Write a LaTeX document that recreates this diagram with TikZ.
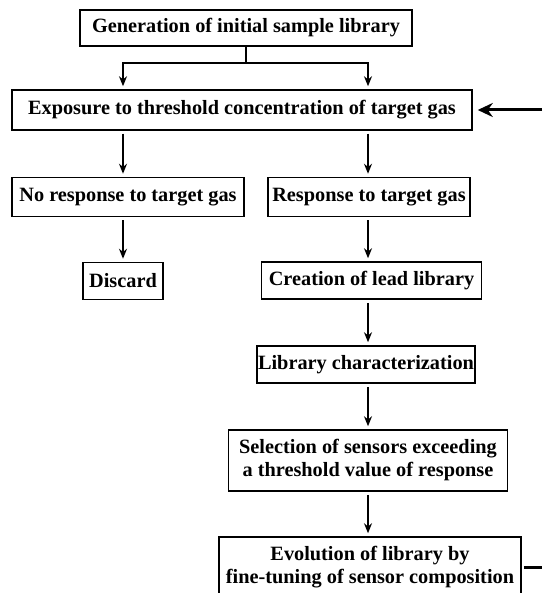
\documentclass[tikz,border=0pt]{standalone}
\usepackage{fontspec}
\setmainfont{Liberation Serif}
\usetikzlibrary{arrows.meta}

\begin{document}
\begin{tikzpicture}[x=1pt, y=-1pt,
    stage/.style={draw, line width=1.5pt, inner sep=0pt, align=center,
        font=\fontsize{20.3}{23}\selectfont\bfseries},
    flow/.style={line width=1.6pt, -{Stealth[length=10pt,width=8pt]},
        shorten >=3pt},
    feed/.style={line width=3pt, -{Stealth[length=15pt,width=14pt]},
        shorten >=5pt}]
    \useasboundingbox (0,0) rectangle (542,593);

    \path
    node[stage, minimum width=332pt, minimum height=36pt] (gen) at (246,28)
        {Generation of initial sample library}
    node[stage, minimum width=460pt, minimum height=40pt] (expo) at (242,110)
        {Exposure to threshold concentration of target gas}
    node[stage, minimum width=232pt, minimum height=39pt] (nores) at (128,197)
        {No response to target gas}
    node[stage, minimum width=202pt, minimum height=39pt] (res) at (369,197)
        {Response to target gas}
    node[stage, minimum width=80pt, minimum height=37pt] (disc) at (123,281)
        {Discard}
    node[stage, minimum width=220pt, minimum height=37pt] (lead) at (371.5,280.5)
        {Creation of lead library}
    node[stage, minimum width=218pt, minimum height=37pt] (char) at (366,364.5)
        {Library characterization}
    node[stage, minimum width=279pt, minimum height=61pt] (sel) at (368,460.5)
        {Selection of sensors exceeding\\a threshold value of response}
    node[stage, minimum width=302pt, minimum height=60pt] (evo) at (370,567)
        {Evolution of library by\\fine-tuning of sensor composition};

    \coordinate (split) at (246,63);
    \coordinate (feedin) at (542,110);
    \coordinate (feedout) at (542,567);

    \draw[line width=1.6pt] (gen.south) -- (split);
    \draw[flow] (split) -| (expo.north -| disc);
    \draw[flow] (split) -| (expo.north -| sel);
    \draw[flow, shorten <=3pt] (expo.south -| disc) -- (nores.north -| disc);
    \draw[flow, shorten <=3pt] (expo.south -| sel) -- (res.north -| sel);
    \draw[flow, shorten <=3pt] (nores.south -| disc) -- (disc.north);
    \draw[flow, shorten <=3pt] (res.south -| sel) -- (lead.north -| sel);
    \draw[flow, shorten <=3pt] (lead.south -| sel) -- (char.north -| sel);
    \draw[flow, shorten <=3pt] (char.south -| sel) -- (sel.north);
    \draw[flow, shorten <=3pt] (sel.south) -- (evo.north -| sel);
    \draw[feed] (feedin) -- (expo.east);
    \draw[line width=3pt, shorten <=2pt] (evo.east) -- (feedout);
\end{tikzpicture}
\end{document}
